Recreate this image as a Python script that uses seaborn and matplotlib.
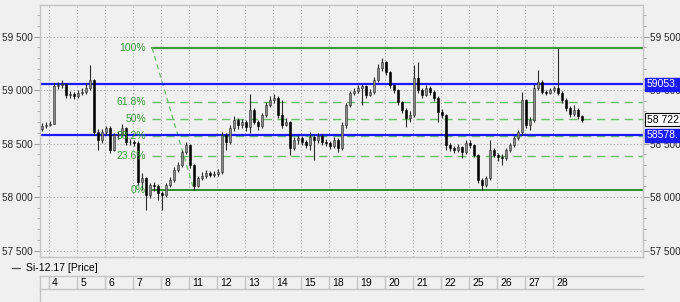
import numpy as np
import pandas as pd
import matplotlib
matplotlib.use("Agg")
import matplotlib.pyplot as plt
import seaborn as sns
from matplotlib.lines import Line2D
from matplotlib.transforms import blended_transform_factory

# ---------------- data ----------------
first_open = 58640
closes = [58663, 58673, 58682, 59040, 59047, 59056, 58953, 58963, 58944, 58972,
          58981, 59019, 59094, 58607, 58532, 58607, 58645, 58439, 58579, 58589,
          58645, 58514, 58514, 58504, 58140, 58178, 58018, 58112, 58102, 58037,
          58018, 58112, 58159, 58252, 58299, 58420, 58486, 58299, 58102, 58178,
          58196, 58224, 58205, 58214, 58233, 58579, 58514, 58645, 58720, 58673,
          58701, 58654, 58813, 58701, 58663, 58766, 58860, 58907, 58925, 58766,
          58673, 58701, 58458, 58532, 58551, 58514, 58486, 58561, 58532, 58570,
          58514, 58504, 58476, 58532, 58458, 58673, 58860, 58972, 58991, 59019,
          59037, 58953, 58981, 59094, 59206, 59262, 59168, 59047, 59000, 58888,
          58813, 58738, 58766, 59112, 59000, 58953, 59019, 58981, 58925, 58794,
          58766, 58486, 58458, 58439, 58467, 58420, 58504, 58486, 58392, 58159,
          58112, 58178, 58439, 58392, 58374, 58364, 58439, 58486, 58551, 58607,
          58907, 58673, 58720, 59019, 59075, 58981, 58972, 59000, 59019, 58972,
          58907, 58832, 58776, 58813, 58757, 58722]
highs = [58690, 58700, 58710, 59070, 59075, 59094, 59070, 58990, 58985, 59000,
         59020, 59065, 59234, 59100, 58640, 58640, 58665, 58660, 58600, 58620,
         58682, 58655, 58540, 58535, 58520, 58225, 58190, 58130, 58140, 58120,
         58060, 58130, 58190, 58280, 58330, 58440, 58514, 58500, 58310, 58200,
         58230, 58250, 58240, 58240, 58260, 58607, 58600, 58670, 58757, 58740,
         58730, 58720, 58963, 58830, 58720, 58790, 58890, 58944, 58963, 58940,
         58907, 58740, 58710, 58560, 58580, 58570, 58530, 58607, 58580, 58600,
         58590, 58540, 58520, 58560, 58550, 58700, 58880, 58990, 59020, 59050,
         59060, 59050, 59010, 59120, 59240, 59299, 59275, 59180, 59060, 59010,
         58900, 58830, 58800, 59234, 59262, 59020, 59050, 59040, 59000, 58940,
         58820, 58780, 58510, 58480, 58500, 58480, 58530, 58532, 58500, 58400,
         58180, 58200, 58532, 58460, 58410, 58400, 58460, 58510, 58570, 58630,
         58981, 58920, 58750, 59056, 59190, 59090, 59000, 59020, 59040, 59397,
         58990, 58925, 58850, 58860, 58830, 58770]
lows = [58620, 58650, 58660, 58680, 59010, 59020, 58930, 58925, 58920, 58930,
        58950, 58960, 59000, 58580, 58439, 58510, 58580, 58410, 58430, 58540,
        58570, 58490, 58490, 58480, 58112, 58065, 57878, 57990, 58060, 57972,
        57878, 58000, 58090, 58140, 58230, 58280, 58400, 58270, 58065, 58090,
        58160, 58180, 58185, 58190, 58200, 58220, 58439, 58500, 58620, 58640,
        58650, 58620, 58600, 58680, 58630, 58650, 58750, 58840, 58880, 58740,
        58650, 58660, 58392, 58440, 58500, 58490, 58460, 58439, 58345, 58510,
        58490, 58480, 58450, 58460, 58420, 58440, 58650, 58840, 58950, 58970,
        58860, 58930, 58940, 58960, 59080, 59180, 59140, 59020, 58970, 58860,
        58790, 58654, 58700, 58750, 58970, 58930, 58940, 58950, 58900, 58701,
        58740, 58439, 58430, 58410, 58420, 58364, 58400, 58460, 58370, 58130,
        58065, 58090, 58160, 58370, 58340, 58299, 58350, 58420, 58470, 58530,
        58579, 58650, 58626, 58700, 59000, 58960, 58950, 58960, 58980, 58950,
        58880, 58800, 58750, 58760, 58730, 58700]

day_labels = ["4", "5", "6", "7", "8", "11", "12", "13", "14", "15",
              "18", "19", "20", "21", "22", "25", "26", "27", "28"]

support_levels = [59053, 58578]
last_price = 58722
fib_high = 59397
fib_low = 58065
fib_ratios = [0.0, 0.236, 0.382, 0.5, 0.618, 1.0]
fib_texts = ["0%", "23.6%", "38.2%", "50%", "61.8%", "100%"]
instrument = "Si-12.17 [Price]"

# ---------------- layout helpers ----------------
BARS_PER_DAY = 7
FIRST_DAY_OFFSET = 1.75
FIB_START_BAR = 27.5
FIB_END_BAR = 38.0

opens = [first_open] + closes[:-1]
df = pd.DataFrame({"bar": np.arange(len(closes)), "open": opens,
                   "high": highs, "low": lows, "close": closes})
bounds = [FIRST_DAY_OFFSET + BARS_PER_DAY * k for k in range(len(day_labels))]

sns.set_style("white")
plt.rcParams["font.family"] = ["Liberation Sans", "DejaVu Sans"]
plt.rcParams["font.size"] = 7.5

BG = "#f0f0f0"
W, H = 680, 302
fig = plt.figure(figsize=(W / 100, H / 100), dpi=100, facecolor=BG)

L, R, T, B = 40, 643, 5, 257
ax = fig.add_axes([L / W, 1 - B / H, (R - L) / W, (B - T) / H], facecolor=BG)
xlim = (-0.5, 150.25)
ax.set_xlim(*xlim)
ax.set_ylim(57440, 59795)

# grid
ax.set_yticks([57500, 58000, 58500, 59000, 59500])
ax.set_yticks(np.arange(57500, 59800, 100), minor=True)
ax.yaxis.set_major_formatter(matplotlib.ticker.FuncFormatter(
    lambda v, p: f"{int(v):,}".replace(",", " ")))
ax.grid(axis="y", which="major", linestyle=(0, (1, 2)), color="#a8a8a8", lw=0.8)
ax.grid(axis="x", visible=False)
ax.vlines(bounds, 57440, 59795, colors="#a8a8a8", linestyles=(0, (1, 2)), lw=0.8, zorder=0.5)
ax.set_xticks([])
ax.tick_params(axis="y", which="both", left=True, right=True, labelleft=True,
               labelright=True, direction="out", color="#a0a0a0", labelsize=7.2, pad=1)
ax.tick_params(axis="y", which="major", length=4)
ax.tick_params(axis="y", which="minor", length=2)
for s in ax.spines.values():
    s.set_color("#c4c4c4")
    s.set_linewidth(1)

# support / resistance lines
for lv in support_levels:
    ax.axhline(lv, color="#1a1aff", lw=1.6, zorder=2)

# fibonacci
fcol = "#3a9a3a"
for r, t in zip(fib_ratios, fib_texts):
    lv = fib_low + (fib_high - fib_low) * r
    if r in (0.0, 1.0):
        ax.plot([FIB_START_BAR, xlim[1]], [lv, lv], color="#3f9b3f" if r == 1.0 else "#1a8a1a",
                lw=1.6 if r == 1.0 else 1.3, zorder=1.5)
    else:
        ax.plot([FIB_START_BAR, xlim[1]], [lv, lv], color="#6abf6a", lw=1.0,
                dashes=(6, 4), zorder=1.5)
    ax.text(FIB_START_BAR - 1.5, lv, t, color=fcol, ha="right", va="center",
            fontsize=7.5, zorder=4)
ax.plot([FIB_START_BAR, FIB_END_BAR], [fib_high, fib_low], color="#6abf6a", lw=0.9,
        dashes=(4, 3), zorder=1.5)

# candles
ax.vlines(df["bar"], df["low"], df["high"], colors="#2a2a2a", lw=0.8, zorder=3)
up = df["close"] >= df["open"]
dn = ~up
ax.bar(df["bar"][up], (df["close"] - df["open"])[up] + 4, bottom=df["open"][up] - 2,
       width=0.7, color="#8a8a8a", edgecolor="#2a2a2a", lw=0.4, zorder=3.2)
ax.bar(df["bar"][dn], (df["open"] - df["close"])[dn] + 4, bottom=df["close"][dn] - 2,
       width=0.7, color="#000000", edgecolor="#000000", lw=0.4, zorder=3.2)

# right-side value tags
trans = blended_transform_factory(ax.transAxes, ax.transData)
for lv in support_levels:
    ax.text(1.006, lv, f"{lv}.", transform=trans, ha="left", va="center", color="white",
            fontsize=7.5, zorder=10, clip_on=False,
            bbox=dict(boxstyle="square,pad=0.15", fc="#1a1aff", ec="#1a1aff"))
ax.text(1.006, last_price, f"{last_price:,}".replace(",", " "), transform=trans, ha="left",
        va="center", color="black", fontsize=7.5, zorder=10, clip_on=False,
        bbox=dict(boxstyle="square,pad=0.15", fc="white", ec="black", lw=0.8))

# legend row
ly = 1 - 268 / H
fig.add_artist(Line2D([12 / W, 20 / W], [ly, ly], color="#505050", lw=0.9))
fig.text(26 / W, ly, instrument, ha="left", va="center", fontsize=7.5, color="black")

# date strip
ST, SB = 276, 289
ax2 = fig.add_axes([L / W, 1 - SB / H, (R - L) / W, (SB - ST) / H], facecolor=BG)
ax2.set_xlim(*xlim)
ax2.set_ylim(0, 1)
ax2.set_xticks([])
ax2.set_yticks([])
for k, s in ax2.spines.items():
    s.set_color("#c4c4c4")
    s.set_linewidth(1)
ax2.spines["right"].set_visible(False)
ax2.vlines(bounds, 0, 1, colors="#c4c4c4", lw=1)
for b, lab in zip(bounds, day_labels):
    ax2.text(b + 0.8, 0.45, lab, ha="left", va="center", fontsize=7.5, color="black")
fig.add_artist(Line2D([L / W, L / W], [0, 1 - SB / H], color="#c4c4c4", lw=1))

fig.savefig("out.png", dpi=100, facecolor=BG)
